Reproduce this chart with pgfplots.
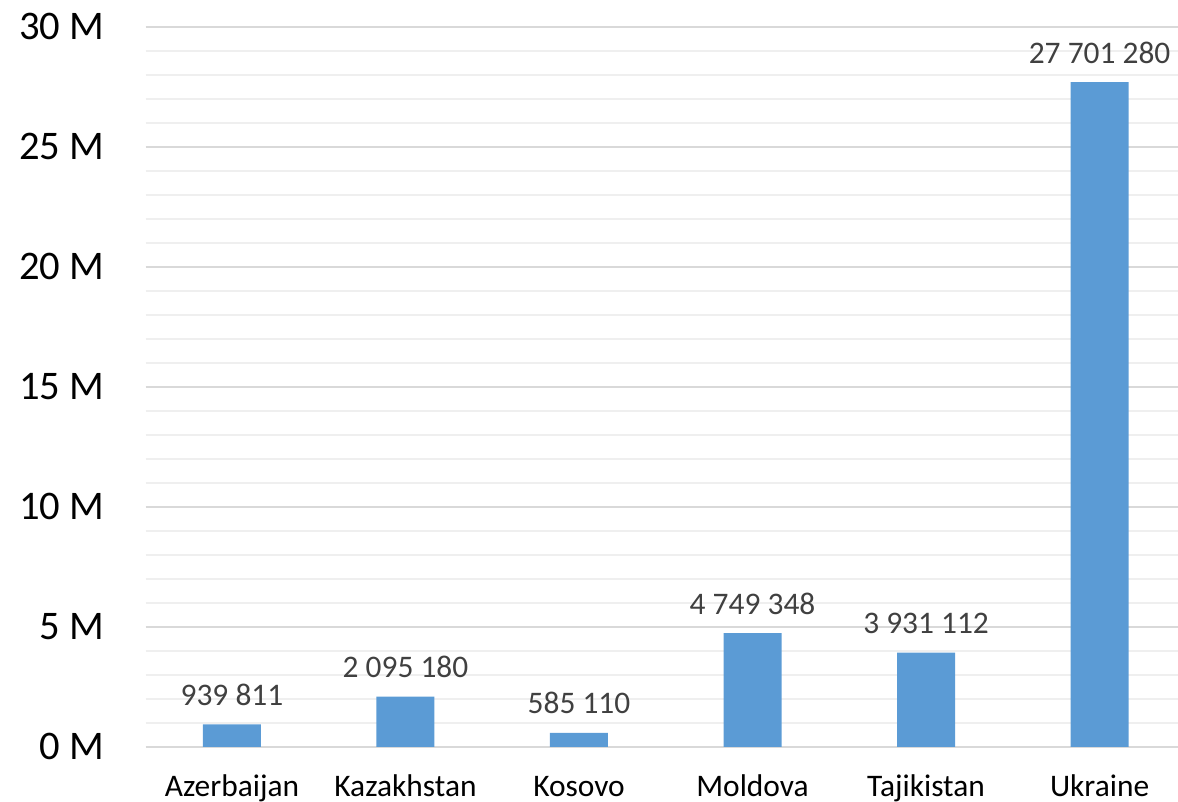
\documentclass[border=0pt]{standalone}
\usepackage{fontspec}
\setmainfont{Carlito}
\usepackage{pgfplots}
\pgfplotsset{compat=1.18}
\definecolor{barblue}{HTML}{5B9BD5}
\definecolor{majgrid}{HTML}{D9D9D9}
\definecolor{mingrid}{HTML}{EFEFEF}
\definecolor{lblgray}{HTML}{404040}
\begin{document}
\begin{tikzpicture}
\begin{axis}[
    scale only axis,
    width=516.15pt,
    height=360pt,
    ybar,
    bar width=29pt,
    xmin=-0.497, xmax=5.452,
    ymin=0, ymax=30000000,
    scaled y ticks=false,
    xtick=data,
    xticklabels={Azerbaijan,Kazakhstan,Kosovo,Moldova,Tajikistan,Ukraine},
    ytick={0,5000000,10000000,15000000,20000000,25000000,30000000},
    yticklabels={0 M,5 M,10 M,15 M,20 M,25 M,30 M},
    minor y tick num=4,
    ymajorgrids, yminorgrids,
    major grid style={draw=majgrid, line width=1pt},
    minor grid style={draw=mingrid, line width=1pt},
    axis line style={draw=none},
    major tick length=0pt, minor tick length=0pt,
    yticklabel style={font=\fontsize{20.3}{24}\selectfont, anchor=base east, inner sep=0pt, xshift=-20.5pt, yshift=-6.5pt},
    xticklabel style={font=\fontsize{15.7}{19}\selectfont, anchor=base, yshift=-25pt},
    point meta=explicit symbolic,
    nodes near coords,
    every node near coord/.append style={font=\fontsize{15.7}{19}\selectfont, text=lblgray, anchor=base, inner sep=0pt, yshift=9.5pt},
    clip=false,
]
\addplot[fill=barblue, draw=none] coordinates {
  (0,939811)   [939 811]
  (1,2095180)  [2 095 180]
  (2,585110)   [585 110]
  (3,4749348)  [4 749 348]
  (4,3931112)  [3 931 112]
  (5,27701280) [27 701 280]
};
\coordinate (bl) at (rel axis cs:0,0);
\coordinate (tr) at (rel axis cs:1,1);
\end{axis}
\pgfresetboundingbox
\path[use as bounding box] ([shift={(-72.85pt,-27.5pt)}]bl) rectangle ([shift={(0pt,13.5pt)}]tr);
\end{tikzpicture}
\end{document}
